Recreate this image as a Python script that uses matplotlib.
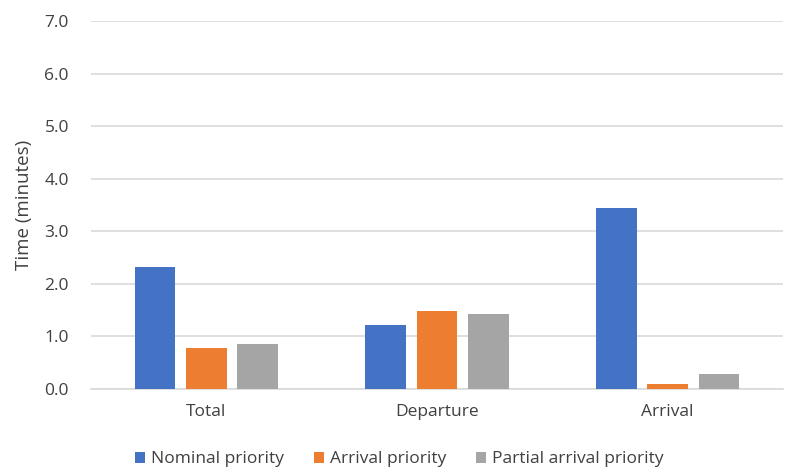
import matplotlib
matplotlib.use("Agg")
import matplotlib.pyplot as plt
import numpy as np

categories = ["Total", "Departure", "Arrival"]
series_names = ["Nominal priority", "Arrival priority", "Partial arrival priority"]
nominal = [2.32, 1.22, 3.45]
arrival = [0.78, 1.48, 0.10]
partial = [0.85, 1.42, 0.29]
yticks = [0.0, 1.0, 2.0, 3.0, 4.0, 5.0, 6.0, 7.0]

colors = ["#4472C4", "#ED7D31", "#A5A5A5"]
text_color = "#404040"

plt.rcParams["font.family"] = ["Open Sans", "DejaVu Sans"]

fig = plt.figure(figsize=(7.86, 4.71), dpi=100)
ax = fig.add_axes([0.116, 0.174, 0.88, 0.781])

x = np.arange(len(categories))
width = 0.177
step = 0.223
for i, (vals, name) in enumerate(zip([nominal, arrival, partial], series_names)):
    ax.bar(x + (i - 1) * step, vals, width, color=colors[i], label=name, zorder=3)

ax.set_xlim(-0.5, len(categories) - 0.5)
ax.set_ylim(0, 7.0)
ax.set_yticks(yticks)
ax.set_yticklabels([f"{v:.1f}" for v in yticks])
ax.set_xticks(x)
ax.set_xticklabels(categories)
ax.yaxis.grid(True, color="#D9D9D9", linewidth=1.2, zorder=0)
ax.set_axisbelow(True)
for side in ["top", "right", "left"]:
    ax.spines[side].set_visible(False)
ax.spines["bottom"].set_color("#D9D9D9")
ax.spines["bottom"].set_linewidth(1.2)
ax.tick_params(axis="both", length=0, labelsize=12.5, colors=text_color)
ax.tick_params(axis="y", pad=16)
ax.tick_params(axis="x", pad=11)

ax.set_ylabel("Time (minutes)", fontsize=13.5, color=text_color, labelpad=8)

fig.legend(loc="upper center", bbox_to_anchor=(0.508, 0.042), ncol=3, frameon=False,
           fontsize=12.5, labelcolor=text_color, handlelength=0.6, handleheight=0.6,
           handletextpad=0.35, columnspacing=1.7, borderaxespad=0, borderpad=0)

fig.savefig("out.png", dpi=100)
